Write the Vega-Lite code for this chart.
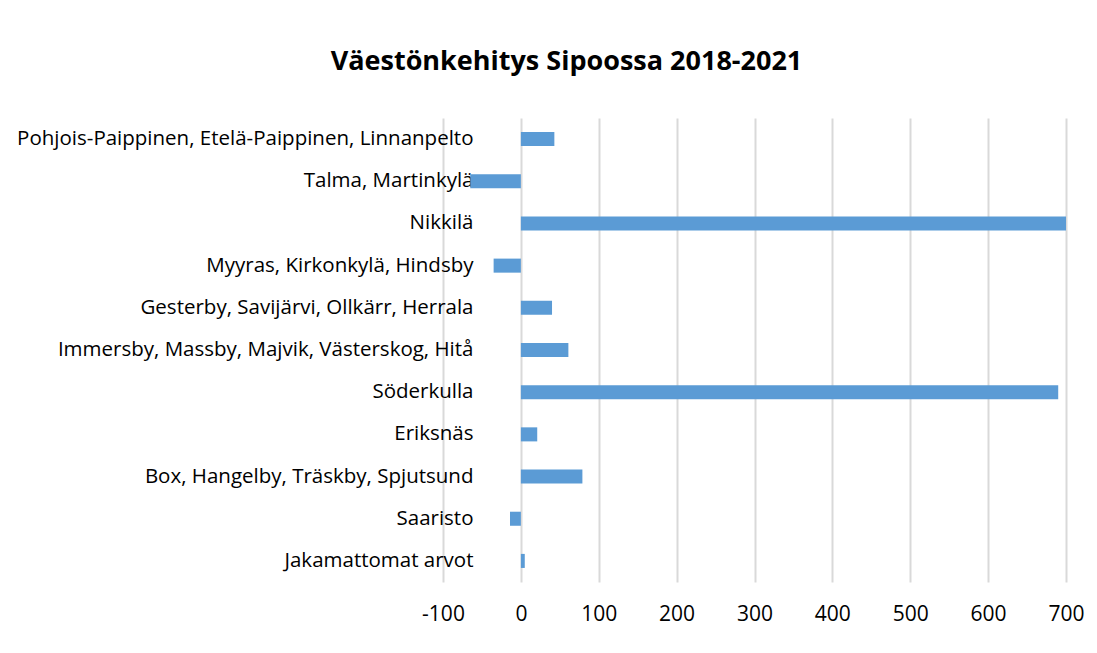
{
  "$schema": "https://vega.github.io/schema/vega-lite/v6.json",
  "autosize": {"type": "none"},
  "padding": {"left": 443, "top": 118, "right": 31, "bottom": 71},
  "width": 623,
  "height": 464,
  "background": "white",
  "title": {
    "text": "Väestönkehitys Sipoossa 2018-2021",
    "font": "Open Sans",
    "fontSize": 27,
    "fontWeight": "bold",
    "color": "#000000",
    "anchor": "middle",
    "frame": "group",
    "dx": -188,
    "baseline": "bottom",
    "offset": 15
  },
  "data": {
    "values": [
      {"alue": "Pohjois-Paippinen, Etelä-Paippinen, Linnanpelto", "muutos": 43},
      {"alue": "Talma, Martinkylä", "muutos": -65},
      {"alue": "Nikkilä", "muutos": 700},
      {"alue": "Myyras, Kirkonkylä, Hindsby", "muutos": -35},
      {"alue": "Gesterby, Savijärvi, Ollkärr, Herrala", "muutos": 40},
      {"alue": "Immersby, Massby, Majvik, Västerskog, Hitå", "muutos": 61},
      {"alue": "Söderkulla", "muutos": 690},
      {"alue": "Eriksnäs", "muutos": 21},
      {"alue": "Box, Hangelby, Träskby, Spjutsund", "muutos": 79},
      {"alue": "Saaristo", "muutos": -14},
      {"alue": "Jakamattomat arvot", "muutos": 5}
    ]
  },
  "mark": {"type": "bar", "color": "#5B9BD5", "clip": true},
  "encoding": {
    "y": {
      "field": "alue",
      "type": "nominal",
      "sort": null,
      "title": null,
      "scale": {"paddingInner": 0.667, "paddingOuter": 0.333},
      "axis": {
        "domain": false,
        "ticks": false,
        "grid": false,
        "labelFont": "Open Sans",
        "labelFontSize": 20.5,
        "labelColor": "#000000",
        "labelPadding": -30,
        "labelLimit": 0
      }
    },
    "x": {
      "field": "muutos",
      "type": "quantitative",
      "title": null,
      "scale": {"domain": [-100, 700], "nice": false},
      "axis": {
        "values": [-100, 0, 100, 200, 300, 400, 500, 600, 700],
        "labelExpr": "toString(datum.value)",
        "labelFlush": false,
        "domain": false,
        "ticks": false,
        "grid": true,
        "gridColor": "#d9d9d9",
        "gridWidth": 2,
        "labelFont": "Open Sans",
        "labelFontSize": 21,
        "labelColor": "#000000",
        "labelPadding": 21
      }
    }
  },
  "config": {"view": {"stroke": null}}
}
